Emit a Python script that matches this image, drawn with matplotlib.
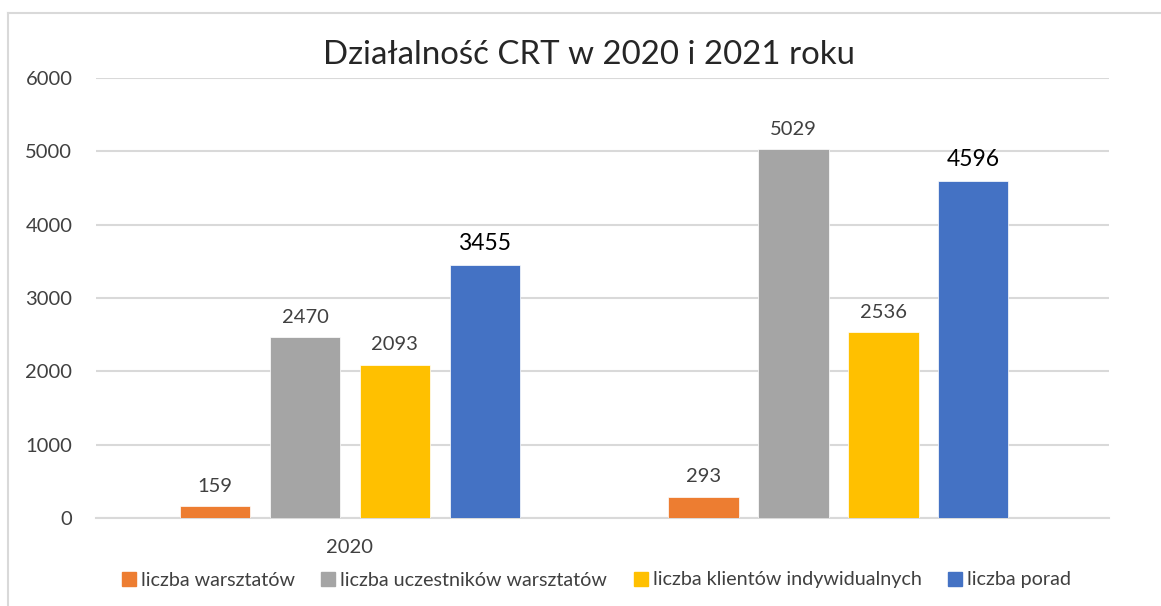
import matplotlib
matplotlib.use("Agg")
import matplotlib.pyplot as plt
from matplotlib.lines import Line2D
import numpy as np

plt.rcParams['font.family'] = ['Lato', 'DejaVu Sans']

title = "Działalność CRT w 2020 i 2021 roku"
categories = ["2020", ""]
series_names = ["liczba warsztatów", "liczba uczestników warsztatów",
                "liczba klientów indywidualnych", "liczba porad"]
colors = ["#ED7D31", "#A5A5A5", "#FFC000", "#4472C4"]
values = {
    "liczba warsztatów": [159, 293],
    "liczba uczestników warsztatów": [2470, 5029],
    "liczba klientów indywidualnych": [2093, 2536],
    "liczba porad": [3455, 4596],
}
emphasized = ["liczba porad"]
yticks = [0, 1000, 2000, 3000, 4000, 5000, 6000]

W, H = 1161, 606
fig = plt.figure(figsize=(W / 100, H / 100), dpi=100)
ax = fig.add_axes([96 / W, 1 - 518 / H, (1109 - 96) / W, (518 - 78) / H])

x = np.arange(len(categories))
step = 0.184
width = 0.144
for i, name in enumerate(series_names):
    off = (i - 1.5) * step
    bars = ax.bar(x + off, values[name], width=width, color=colors[i], zorder=3,
                  edgecolor="white", linewidth=0.5)
    for b, v in zip(bars, values[name]):
        if name in emphasized:
            ax.annotate(str(v), (b.get_x() + b.get_width() / 2, v), xytext=(0, 8),
                        textcoords="offset points", ha="center", va="bottom",
                        fontsize=16.5, color="black")
        else:
            ax.annotate(str(v), (b.get_x() + b.get_width() / 2, v), xytext=(0, 8),
                        textcoords="offset points", ha="center", va="bottom",
                        fontsize=14.5, color="#404040")

ax.set_xlim(-0.52, 1.554)
ax.set_ylim(0, 6000)
ax.set_yticks(yticks)
ax.set_yticklabels([str(t) for t in yticks], fontsize=14.5, color="#404040")
ax.set_xticks(x)
ax.set_xticklabels(categories, fontsize=14.5, color="#404040")
ax.tick_params(axis="both", length=0)
ax.tick_params(axis="y", pad=17)
ax.tick_params(axis="x", pad=15)
ax.grid(axis="y", color="#D9D9D9", linewidth=1.5, zorder=0)
for s in ["top", "right", "left"]:
    ax.spines[s].set_visible(False)
ax.spines["bottom"].set_color("#D9D9D9")
ax.spines["bottom"].set_linewidth(1.5)

fig.text(589 / W, 1 - 55 / H, title, ha="center", va="center", fontsize=23.8, color="#262626")

handles = [Line2D([0], [0], marker="s", linestyle="none", markersize=9.5,
                  markerfacecolor=c, markeredgecolor=c) for c in colors]
fig.legend(handles, series_names, loc="center", bbox_to_anchor=(595 / W, 1 - 580 / H),
           ncol=4, frameon=False, fontsize=14.2, handletextpad=0.1, columnspacing=1.2,
           handlelength=1.0, labelcolor="#404040")

# chart border (left and top)
fig.add_artist(Line2D([8 / W, 8 / W], [0, 1 - 13 / H], color="#D9D9D9", linewidth=1.5,
                      transform=fig.transFigure))
fig.add_artist(Line2D([8 / W, 1], [1 - 13 / H, 1 - 13 / H], color="#D9D9D9", linewidth=1.5,
                      transform=fig.transFigure))

fig.savefig("out.png", dpi=100, facecolor="white")
